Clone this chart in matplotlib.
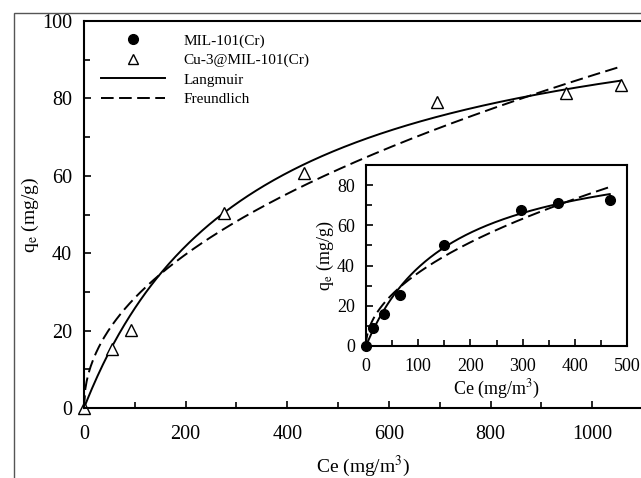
import matplotlib
matplotlib.use("Agg")
import matplotlib.pyplot as plt
import numpy as np
from matplotlib.lines import Line2D
from matplotlib.patches import Rectangle
from matplotlib.ticker import MultipleLocator

plt.rcParams['font.family'] = ['Liberation Serif', 'DejaVu Serif']
plt.rcParams['mathtext.fontset'] = 'stix'

# Cu-3@MIL-101(Cr) isotherm (main panel)
ce_cu = [0, 55.7, 92.5, 276, 432, 695, 948, 1057]
qe_cu = [0, 15.2, 20.2, 50.5, 60.8, 79.1, 81.3, 83.5]
# MIL-101(Cr) isotherm (inset)
ce_mil = [0, 14, 35, 65, 150, 297, 368, 467]
qe_mil = [0, 8.8, 16.0, 25.2, 50.2, 67.7, 71.3, 72.5]

# fitted model parameters: Langmuir (qm, KL), Freundlich (KF, 1/n)
lang_cu = (111.1, 0.00302)
freu_cu = (3.12, 0.480)
lang_mil = (101.5, 0.00623)
freu_mil = (3.57, 0.504)

DASH = (6.5, 2.8)


def langmuir(c, qm, k):
    return qm * k * c / (1 + k * c)


def freundlich(c, kf, inv_n):
    return kf * c ** inv_n


fig = plt.figure(figsize=(6.41, 4.78), dpi=100)
fig.patches.append(Rectangle((14 / 641, -0.1), 1.2, 1 - 13 / 478 + 0.1,
                             transform=fig.transFigure, fill=False,
                             edgecolor='#555555', lw=1.0))

ax = fig.add_axes([84 / 641, 1 - 408 / 478, 559 / 641, 387 / 478])
c = np.linspace(0, max(ce_cu), 400)
ax.plot(c, langmuir(c, *lang_cu), color='black', lw=1.4)
ax.plot(c, freundlich(c, *freu_cu), color='black', lw=1.4, dashes=DASH)
ax.plot(ce_cu, qe_cu, linestyle='none', marker='^', markersize=9,
        markerfacecolor='white', markeredgecolor='black', markeredgewidth=1.0,
        clip_on=False)
ax.set_xlim(0, 1100)
ax.set_ylim(0, 100)
ax.xaxis.set_major_locator(MultipleLocator(200))
ax.xaxis.set_minor_locator(MultipleLocator(100))
ax.yaxis.set_major_locator(MultipleLocator(20))
ax.yaxis.set_minor_locator(MultipleLocator(10))
ax.tick_params(which='both', direction='in', labelsize=14.5, width=1.2)
ax.tick_params(which='major', length=5)
ax.tick_params(which='minor', length=4)
ax.tick_params(axis='x', which='both', pad=12)
ax.tick_params(axis='y', which='both', pad=8.5)
for s in ax.spines.values():
    s.set_linewidth(1.5)
ax.set_xlabel('Ce (mg/m$^3$)', fontsize=14, labelpad=7)
ax.set_ylabel('q$_\\mathrm{e}$ (mg/g)', fontsize=14, labelpad=1)

handles = [
    Line2D([], [], linestyle='none', marker='o', color='black', markersize=7),
    Line2D([], [], linestyle='none', marker='^', markersize=7,
           markerfacecolor='white', markeredgecolor='black'),
    Line2D([], [], color='black', lw=1.4),
    Line2D([], [], color='black', lw=1.4, dashes=DASH),
]
labels = ['MIL-101(Cr)', 'Cu-3@MIL-101(Cr)', 'Langmuir', 'Freundlich']
ax.legend(handles, labels, loc='upper left', bbox_to_anchor=(17 / 559, 1 - 13 / 387),
          frameon=False, fontsize=11, handlelength=4.2, handletextpad=1.2,
          borderpad=0, borderaxespad=0, labelspacing=0.37)

# inset
axi = fig.add_axes([366 / 641, 1 - 346 / 478, 261 / 641, 181 / 478])
ci = np.linspace(0, max(ce_mil), 400)
axi.plot(ci, langmuir(ci, *lang_mil), color='black', lw=1.4)
axi.plot(ci, freundlich(ci, *freu_mil), color='black', lw=1.4, dashes=DASH)
axi.plot(ce_mil, qe_mil, linestyle='none', marker='o', markersize=7,
         color='black', clip_on=False)
axi.set_xlim(0, 500)
axi.set_ylim(0, 90)
axi.xaxis.set_major_locator(MultipleLocator(100))
axi.xaxis.set_minor_locator(MultipleLocator(50))
axi.yaxis.set_major_locator(MultipleLocator(20))
axi.yaxis.set_minor_locator(MultipleLocator(10))
axi.tick_params(which='both', direction='in', labelsize=13, width=1.2)
axi.tick_params(which='major', length=5)
axi.tick_params(which='minor', length=4)
axi.tick_params(axis='x', which='both', pad=8.5)
axi.tick_params(axis='y', which='both', pad=8)
for s in axi.spines.values():
    s.set_linewidth(1.5)
axi.set_xlabel('Ce (mg/m$^3$)', fontsize=13, labelpad=2)
axi.set_ylabel('q$_\\mathrm{e}$ (mg/g)', fontsize=13, labelpad=1)

fig.savefig('out.png', dpi=100)
